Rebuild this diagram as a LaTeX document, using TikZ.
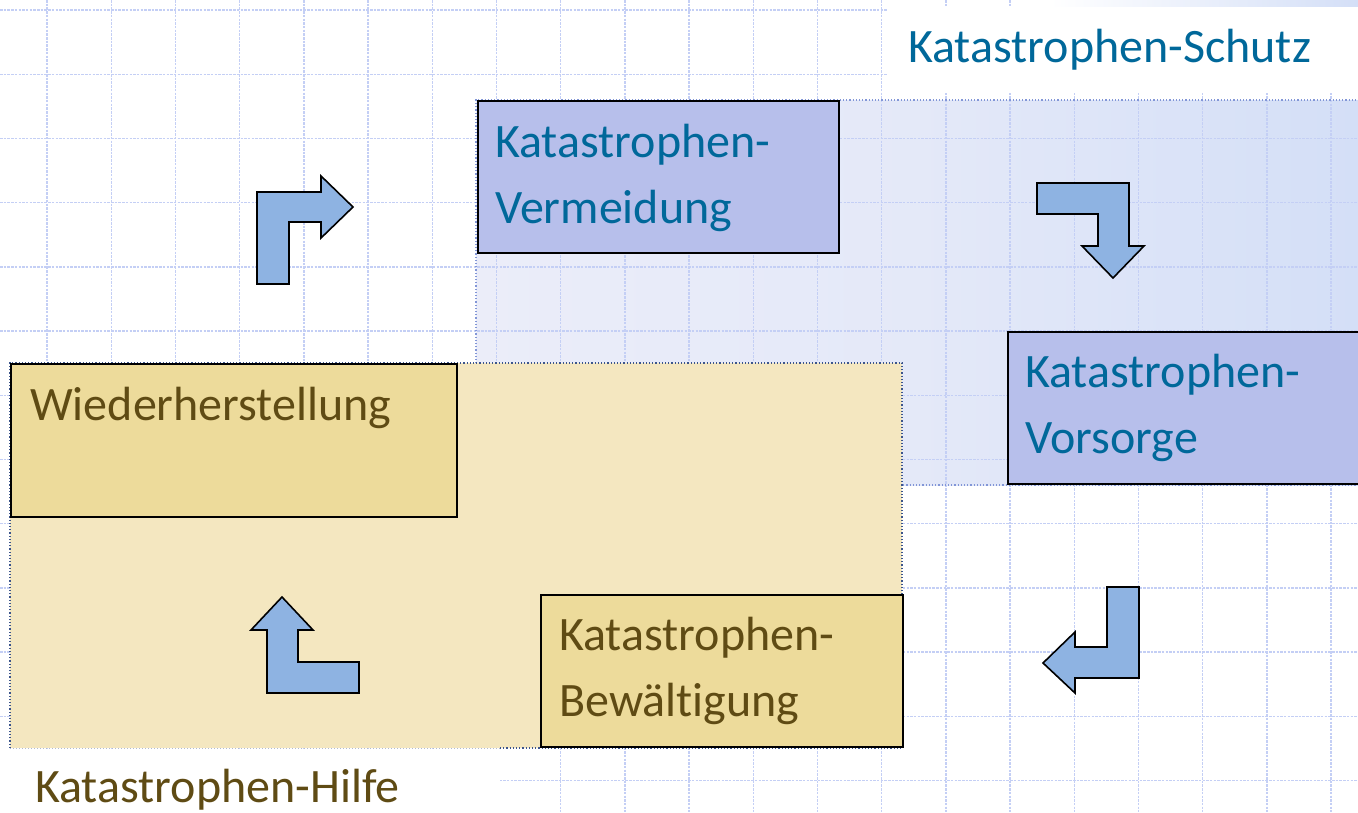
\documentclass[tikz,border=0pt]{standalone}
\usepackage{fontspec}
\setmainfont{Carlito}[Ligatures=NoCommon]
\definecolor{gridc}{RGB}{196,207,245}
\definecolor{regL}{RGB}{235,237,249}
\definecolor{regR}{RGB}{212,223,247}
\definecolor{regline}{RGB}{130,150,215}
\definecolor{yelreg}{RGB}{244,231,192}
\definecolor{yelline}{RGB}{60,85,140}
\definecolor{boxblue}{RGB}{183,191,235}
\definecolor{boxyel}{RGB}{237,219,155}
\definecolor{txtblue}{RGB}{0,104,154}
\definecolor{txtolive}{RGB}{95,75,20}
\definecolor{arrowc}{RGB}{142,179,226}
\begin{document}
\begin{tikzpicture}[x=1pt,y=-1pt,
  gridline/.style={draw=gridc, line width=1.4pt, dash pattern=on 2.5pt off 1.2pt},
  box/.style={draw=black, line width=2pt, inner sep=0pt, anchor=north west},
  bluebox/.style={box, fill=boxblue},
  yelbox/.style={box, fill=boxyel},
  lbl/.style={font=\fontsize{48}{58}\selectfont, anchor=base west, inner sep=0pt},
  bluetxt/.style={lbl, text=txtblue},
  oltxt/.style={lbl, text=txtolive},
  bentarrow/.style={fill=arrowc, draw=black, line width=1.6pt, line join=miter}
]
\useasboundingbox (0,0) rectangle (1358,812);
\clip (0,0) rectangle (1358,812);
\fill[white] (0,0) rectangle (1358,812);
% Schutz region
\shade[left color=regL, right color=regR, middle color=regL!70!regR] (476,100) rectangle (1358,485);
% grid
\foreach \k in {0,...,12} { \draw[gridline] (0,{10+64.2*\k}) -- (1358,{10+64.2*\k}); }
\foreach \k in {0,...,20} { \draw[gridline] ({47+64.2*\k},0) -- ({47+64.2*\k},812); }
\draw[regline, dotted, line width=1.2pt] (476,485) -- (476,100) -- (1358,100);
\draw[regline, dotted, line width=1.2pt] (900,485) -- (1358,485);
% title area
\fill[white] (887,6) rectangle (1358,93);
\shade[left color=white, right color=regR] (1050,0) rectangle (1358,6);
% Hilfe region
\fill[yelreg] (10,363) rectangle (902,748);
\draw[yelline, dotted, line width=1.2pt] (10,748) -- (10,363) -- (902,363) -- (902,748);
\draw[yelline!40, dotted, line width=1pt] (10,748) -- (500,748);
\draw[yelline, dotted, line width=1.2pt] (500,748) -- (902,748);
\fill[white] (0,749) rectangle (500,812);
% boxes
\node[bluebox, minimum width=361pt, minimum height=152pt] (verm) at (477,100) {};
\node[bluebox, minimum width=360pt, minimum height=152pt] (vors) at (1007,331) {};
\node[yelbox, minimum width=446pt, minimum height=153pt] (wied) at (10,363) {};
\node[yelbox, minimum width=362pt, minimum height=152pt] (bewa) at (540,594) {};
% texts
\node[bluetxt] (verm1) at (495,157) {Katastrophen-};
\node[bluetxt] (verm2) at (495,223) {Vermeidung};
\node[bluetxt] (vors1) at (1025,387) {Katastrophen-};
\node[bluetxt] (vors2) at (1025,453) {Vorsorge};
\node[oltxt] (wied1) at (30,420) {Wiederherstellung};
\node[oltxt] (bewa1) at (559,650) {Katastrophen-};
\node[oltxt] (bewa2) at (559,716) {Bewältigung};
\node[bluetxt] (schutz) at (908,62) {Katastrophen-Schutz};
\node[oltxt] (hilfe) at (35,802) {Katastrophen-Hilfe};
% bent arrows
\draw[bentarrow] (257,284) -- (257,192) -- (321,192) -- (321,176) -- (353,207) -- (321,238) -- (321,222) -- (289,222) -- (289,284) -- cycle;
\draw[bentarrow] (1037,183) -- (1129,183) -- (1129,246) -- (1144,246) -- (1113,278) -- (1082,246) -- (1098,246) -- (1098,214) -- (1037,214) -- cycle;
\draw[bentarrow] (1107,587) -- (1139,587) -- (1139,678) -- (1075,678) -- (1075,693) -- (1043,663) -- (1075,632) -- (1075,647) -- (1107,647) -- cycle;
\draw[bentarrow] (282,597) -- (313,630) -- (298,630) -- (298,662) -- (359,662) -- (359,693) -- (267,693) -- (267,630) -- (251,630) -- cycle;
\end{tikzpicture}
\end{document}
